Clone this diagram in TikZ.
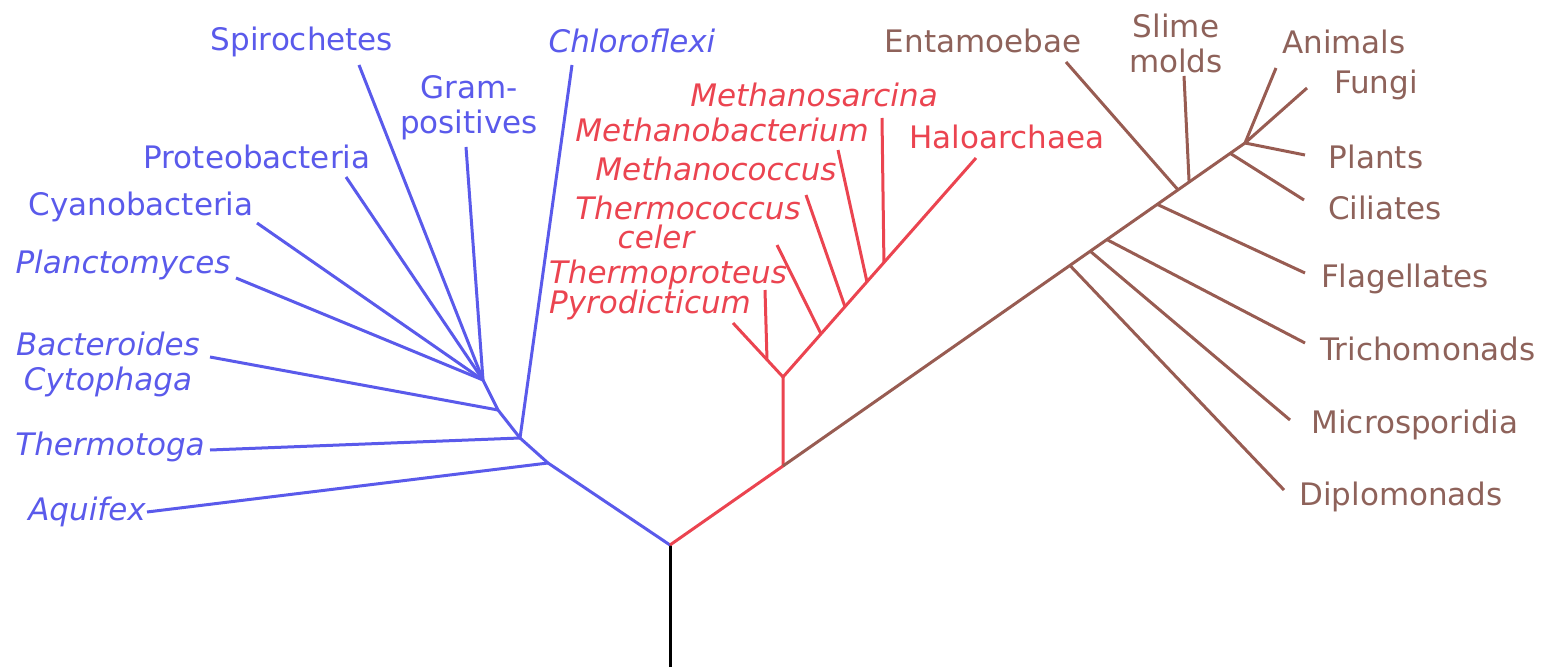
\documentclass[tikz,border=0pt]{standalone}
\usepackage{fontspec}
\setmainfont{DejaVu Sans}
\usetikzlibrary{calc}
\definecolor{bact}{HTML}{5A5AEB}
\definecolor{arch}{HTML}{EB4450}
\definecolor{euk}{HTML}{985C52}
\definecolor{euktext}{HTML}{8E625A}
\begin{document}
\begin{tikzpicture}[x=1pt,y=-1pt,line width=3pt,line join=round,
  lbl/.style={inner sep=0pt,font=\fontsize{31}{35}\selectfont,align=center},
  bactlbl/.style={lbl,text=bact},
  bactlbli/.style={bactlbl,font=\fontsize{31}{35}\selectfont\itshape},
  archlbl/.style={lbl,text=arch},
  archlbli/.style={archlbl,font=\fontsize{31}{35}\selectfont\itshape},
  euklbl/.style={lbl,text=euktext},
  bline/.style={draw=bact},
  aline/.style={draw=arch},
  eline/.style={draw=euk},
  rline/.style={draw=black}]
\useasboundingbox (0,0) rectangle (1563,671);
% ---------- junctions ----------
\coordinate (root) at (670,545);
\coordinate (rootend) at (670,667);
\coordinate (b1) at (548,463);
\coordinate (b2) at (520,438);
\coordinate (b3) at (498,410);
\coordinate (b4) at (483,380);
\coordinate (r0) at (783,466);
\coordinate (r1) at (783,377);
\coordinate (crown) at (1245,143);
% ---------- branch tips ----------
\coordinate (tspiro) at (359,65);
\coordinate (tgram) at (466,147);
\coordinate (tproteo) at (346,177);
\coordinate (tcyano) at (257,223);
\coordinate (tplancto) at (236,278);
\coordinate (tbactero) at (210,357);
\coordinate (tthermotoga) at (210,450);
\coordinate (taquifex) at (147,512);
\coordinate (tchloro) at (572,65);
\coordinate (tpyro) at (733,323);
\coordinate (tthermoprot) at (765,290);
\coordinate (thalo) at (976,158);
\coordinate (tceler) at (777,245);
\coordinate (tmcoccus) at (806,195);
\coordinate (tmbact) at (838,150);
\coordinate (tmsarc) at (882,118);
\coordinate (tentam) at (1066,62);
\coordinate (tslime) at (1184,76);
\coordinate (tanimals) at (1276,68);
\coordinate (tfungi) at (1307,88);
\coordinate (tplants) at (1305,155);
\coordinate (tciliates) at (1304,200);
\coordinate (tflag) at (1305,273);
\coordinate (ttricho) at (1305,343);
\coordinate (tmicro) at (1290,420);
\coordinate (tdiplo) at (1284,490);
% junctions on archaeal / eukaryal trunks
\coordinate (jprot) at ($(r1)!0.32!(tpyro)$);
\coordinate (jceler) at ($(r1)!0.197!(thalo)$);
\coordinate (jmcoccus) at ($(r1)!0.321!(thalo)$);
\coordinate (jmbact) at ($(r1)!0.435!(thalo)$);
\coordinate (jmsarc) at ($(r1)!0.523!(thalo)$);
\coordinate (jdiplo) at ($(r0)!0.621!(crown)$);
\coordinate (jmicro) at ($(r0)!0.665!(crown)$);
\coordinate (jtricho) at ($(r0)!0.701!(crown)$);
\coordinate (jflag) at ($(r0)!0.810!(crown)$);
\coordinate (jentam) at ($(r0)!0.855!(crown)$);
\coordinate (jslime) at ($(r0)!0.879!(crown)$);
\coordinate (jcil) at ($(r0)!0.968!(crown)$);
% ---------- labels ----------
\node[bactlbl] (spiro) at (302,42) {Spirochetes};
\node[bactlbl] (gram) at (469,108) {Gram-\\positives};
\node[bactlbl] (proteo) at (257,157) {Proteobacteria};
\node[bactlbl] (cyano) at (141,207) {Cyanobacteria};
\node[bactlbli] (plancto) at (123,265) {Planctomyces};
\node[bactlbli] (bactero) at (108,364) {Bacteroides\\Cytophaga};
\node[bactlbli] (thermotoga) at (110,447) {Thermotoga};
\node[bactlbli] (aquifex) at (87,512) {Aquifex};
\node[bactlbli] (chloro) at (632,41) {Chloroflexi};
\node[archlbli] (msarc) at (814,95) {Methanosarcina};
\node[archlbli] (mbact) at (722,130) {Methanobacterium};
\node[archlbli] (mcoccus) at (716,169) {Methanococcus};
\node[archlbli] (tcoccus) at (688,208) {Thermococcus};
\node[archlbli] (celer) at (656,237) {celer};
\node[archlbli] (tprot) at (668,275) {Thermoproteus};
\node[archlbli] (pyro) at (650,305) {Pyrodicticum};
\node[archlbl] (halo) at (1007,137) {Haloarchaea};
\node[euklbl] (entam) at (983,41) {Entamoebae};
\node[euklbl] (slime) at (1176,43) {Slime\\molds};
\node[euklbl] (animals) at (1344,42) {Animals};
\node[euklbl] (fungi) at (1376,85) {Fungi};
\node[euklbl] (plants) at (1376,157) {Plants};
\node[euklbl] (ciliates) at (1385,208) {Ciliates};
\node[euklbl] (flag) at (1405,279) {Flagellates};
\node[euklbl] (tricho) at (1428,349) {Trichomonads};
\node[euklbl] (micro) at (1415,425) {Microsporidia};
\node[euklbl] (diplo) at (1401,497) {Diplomonads};
% ---------- root ----------
\draw[rline] (rootend) -- (root);
% ---------- bacteria ----------
\draw[bline] (root) -- (b1) -- (b2) -- (b3) -- (b4);
\draw[bline] (b1) -- (taquifex);
\draw[bline] (b2) -- (tthermotoga);
\draw[bline] (b2) -- (tchloro);
\draw[bline] (b3) -- (tbactero);
\draw[bline] (b4) -- (tgram);
\draw[bline] (b4) -- (tspiro);
\draw[bline] (b4) -- (tproteo);
\draw[bline] (b4) -- (tcyano);
\draw[bline] (b4) -- (tplancto);
% ---------- archaea ----------
\draw[aline] (root) -- (r0) -- (r1);
\draw[aline] (r1) -- (tpyro);
\draw[aline] (jprot) -- (tthermoprot);
\draw[aline] (r1) -- (thalo);
\draw[aline] (jceler) -- (tceler);
\draw[aline] (jmcoccus) -- (tmcoccus);
\draw[aline] (jmbact) -- (tmbact);
\draw[aline] (jmsarc) -- (tmsarc);
% ---------- eukarya ----------
\draw[eline] (r0) -- (crown);
\draw[eline] (jdiplo) -- (tdiplo);
\draw[eline] (jmicro) -- (tmicro);
\draw[eline] (jtricho) -- (ttricho);
\draw[eline] (jflag) -- (tflag);
\draw[eline] (jentam) -- (tentam);
\draw[eline] (jslime) -- (tslime);
\draw[eline] (jcil) -- (tciliates);
\draw[eline] (crown) -- (tplants);
\draw[eline] (crown) -- (tfungi);
\draw[eline] (crown) -- (tanimals);
\end{tikzpicture}
\end{document}
